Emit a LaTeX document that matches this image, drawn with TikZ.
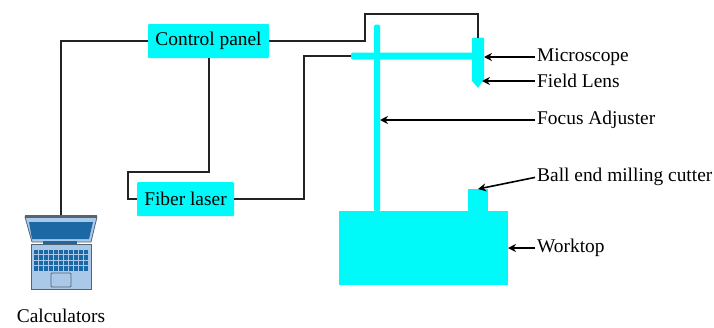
\documentclass[tikz,border=0pt]{standalone}
\usepackage{fontspec}
\setmainfont{Liberation Serif}
\usepackage{xcolor}
\usetikzlibrary{calc,positioning,arrows.meta}
\definecolor{rigcyan}{RGB}{0,250,250}
\definecolor{wirek}{RGB}{35,35,35}
\definecolor{lidblue}{RGB}{170,200,232}
\definecolor{screenblue}{RGB}{28,104,164}
\definecolor{edgegray}{RGB}{85,100,115}
\tikzset{
  panelbox/.style={fill=rigcyan, rounded corners=1pt, minimum height=34pt, inner sep=0pt, font=\fontsize{19.4}{22}\selectfont},
  rigpart/.style={fill=rigcyan, inner sep=0pt, outer sep=0pt},
  wire/.style={draw=wirek, line width=1.7pt},
  callout/.style={draw=black, line width=1.6pt, shorten <=2pt, -{Stealth[length=8pt,width=8pt]}},
  partlabel/.style={anchor=west, inner sep=0pt, font=\fontsize{19.4}{22}\selectfont},
}
\begin{document}
\begin{tikzpicture}[x=1pt,y=-1pt]
\useasboundingbox (0,0) rectangle (714,327);
% rig
\node[rigpart, minimum width=169pt, minimum height=74pt] (worktop) at (423.5,248) {};
\node[rigpart, minimum width=20pt, minimum height=22pt] (cutter) at (478,200) {};
\node[rigpart, minimum width=6pt, minimum height=187pt, rounded corners=1.5pt] (column) at (377,118) {};
\node[rigpart, minimum width=124pt, minimum height=7pt, rounded corners=2pt] (arm) at (413,56) {};
\node[rigpart, minimum width=12pt, minimum height=39pt, rounded corners=1pt] (scope) at (478,57) {};
\fill[rigcyan] (scope.south west) ++(0,-2) -- ++(12,0) -- ++(0,5) -- (478,88) -- (472,81) -- cycle;
\coordinate (lenstip) at (482,81);
% boxes
\node[panelbox, minimum width=121pt] (ctrl) at (208.5,41) {Control panel};
\node[panelbox, minimum width=97pt] (fiber) at (185.5,199) {Fiber laser};
% laptop
\coordinate (laptop) at (61,215);
\begin{scope}[shift={(laptop)}]
\fill[lidblue, draw=edgegray, line width=0.8pt] (-36,2) -- (36,2) -- (30,27) -- (-29,27) -- cycle;
\fill[edgegray] (-36,0) -- (36,0) -- (36,3) -- (-36,3) -- cycle;
\fill[screenblue] (-32,7) -- (32,7) -- (28,24) -- (-29,24) -- cycle;
\fill[screenblue] (-18,26) rectangle (16,29);
\fill[lidblue, draw=edgegray, line width=0.8pt] (-30,29) rectangle (30,74);
\foreach \col in {0,...,10}{
  \foreach \row in {0,...,3}{
    \fill[screenblue] (-27+\col*4.95,34.5+\row*5.6) rectangle ++(4.1,4.7);
  }
}
\draw[edgegray, fill=lidblue, line width=0.8pt, rounded corners=1pt] (-10,58) rectangle (10,72);
\end{scope}
\node[font=\fontsize{19.4}{22}\selectfont, inner sep=0pt] (calc) at (61,316) {Calculators};
% wiring
\coordinate (topbendA) at (365,14);
\coordinate (topbendB) at (scope.north |- topbendA);
\draw[wire] (ctrl.east) -| (topbendA) -- (topbendB) -- (scope.north);
\draw[wire] (ctrl.west) -| (laptop);
\coordinate (ctrldown) at (209,172);
\coordinate (fiberleft) at (128,172);
\draw[wire] (ctrl.south -| ctrldown) -- (ctrldown) -- (fiberleft) |- (fiber.west);
\coordinate (armfeed) at (304,56);
\draw[wire] (fiber.east) -| (armfeed) -- (arm.west);
% labels
\node[partlabel] (lblscope) at (537,57) {Microscope};
\node[partlabel] (lbllens) at (537,81) {Field Lens};
\node[partlabel] (lblfocus) at (537,120) {Focus Adjuster};
\node[partlabel] (lblcutter) at (537,177) {Ball end milling cutter};
\node[partlabel] (lblworktop) at (537,248) {Worktop};
\draw[callout] (lblscope.west) -- (lblscope.west -| scope.east);
\draw[callout] (lbllens.west) -- (lenstip);
\draw[callout] (lblfocus.west) -- (lblfocus.west -| column.east);
\draw[callout] (lblcutter.west) -- (cutter.north);
\draw[callout] (lblworktop.west) -- (lblworktop.west -| worktop.east);
\end{tikzpicture}
\end{document}
